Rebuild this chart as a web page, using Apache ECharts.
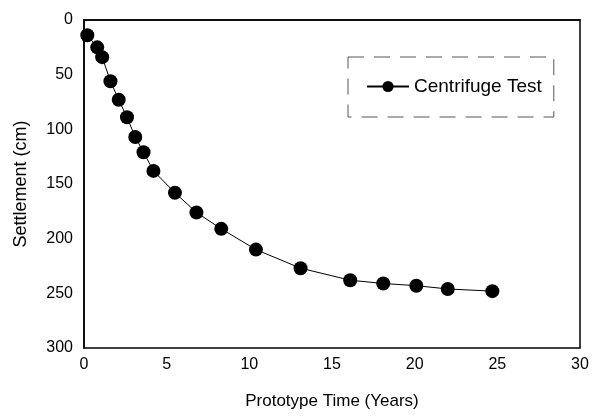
<!DOCTYPE html>
<html>
<head>
<meta charset="utf-8">
<script src="https://cdn.jsdelivr.net/npm/echarts@6/dist/echarts.min.js"></script>
<style>
  html, body { margin: 0; padding: 0; background: #fff; }
  #chart { width: 595px; height: 416px; }
</style>
</head>
<body>
<div id="chart"></div>
<script>
// prototype time (years) and settlement (cm)
const timeYears = [0.2, 0.8, 1.1, 1.6, 2.1, 2.6, 3.1, 3.6, 4.2, 5.5, 6.8, 8.3, 10.4, 13.1, 16.1, 18.1, 20.1, 22.0, 24.7];
const settlementCm = [14, 25, 34, 56, 73, 89, 107, 121, 138, 158, 176, 191, 210, 227, 238, 241, 243, 246, 248];
const seriesName = 'Centrifuge Test';

const points = timeYears.map((t, i) => [t, settlementCm[i]]);

const myChart = echarts.init(document.getElementById('chart'));
const font = 'Liberation Sans, Arial, sans-serif';

let option = {
  animation: false,
  backgroundColor: '#fff',
  grid: {
    left: 84, right: 15, top: 20, bottom: 68,
    show: true, borderColor: '#000', borderWidth: 1.5, backgroundColor: 'transparent'
  },
  legend: {
    left: 348, top: 57,
    padding: [20, 12, 21, 18],
    borderColor: '#555', borderWidth: 1, borderType: [16, 10],
    itemWidth: 42, itemHeight: 14, itemGap: 4,
    textStyle: { fontFamily: font, fontSize: 19, color: '#000' },
    data: [seriesName]
  },
  xAxis: {
    type: 'value', min: 0, max: 30, interval: 5,
    name: 'Prototype Time (Years)', nameLocation: 'middle', nameGap: 45,
    nameTextStyle: { fontFamily: font, fontSize: 17, color: '#000' },
    axisLine: { show: true, lineStyle: { color: '#000', width: 1.5 } },
    axisTick: { show: false },
    splitLine: { show: false },
    axisLabel: { fontFamily: font, fontSize: 16, color: '#000', margin: 9 }
  },
  yAxis: {
    type: 'value', min: 0, max: 300, interval: 50, inverse: true,
    name: 'Settlement (cm)', nameLocation: 'middle', nameGap: 54,
    nameTextStyle: { fontFamily: font, fontSize: 18, color: '#000' },
    axisLine: { show: true, lineStyle: { color: '#000', width: 1.5 } },
    axisTick: { show: false },
    splitLine: { show: false },
    axisLabel: { fontFamily: font, fontSize: 16, color: '#000', margin: 11 }
  },
  series: [
    {
      name: seriesName,
      type: 'line',
      data: points,
      symbol: 'circle',
      symbolSize: 14,
      lineStyle: { color: '#000', width: 1 },
      itemStyle: { color: '#000' }
    }
  ]
};
myChart.setOption(option);
</script>
</body>
</html>
